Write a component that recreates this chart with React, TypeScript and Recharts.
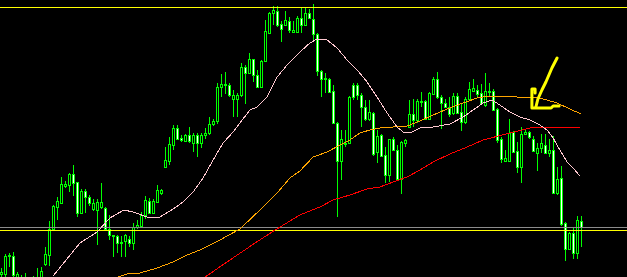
import { ComposedChart, Bar, Line, XAxis, YAxis, ReferenceLine } from 'recharts';

const W = 627;
const H = 277;

// candle values, one entry per bar (index = bar number)
const opens = [
  3, 3, 21, 21, 0, -2, -5, -3, -6, -5,
  -3, 13, 22, 48, 70, 74, 91, 92, 103, 95,
  64, 86, 80, 68, 67, 70, 69, 48, 41, 41,
  34, 36, 38, 34, 50, 51, 62, 76, 64, 75,
  84, 110, 116, 132, 149, 139, 136, 142, 134, 142,
  134, 142, 144, 153, 156, 190, 193, 192, 178, 178,
  182, 210, 204, 218, 202, 190, 216, 244, 264, 266,
  253, 252, 256, 245, 245, 259, 252, 264, 258, 243,
  206, 198, 198, 186, 154, 116, 133, 134, 192, 192,
  182, 170, 158, 164, 125, 142, 122, 102, 138, 127,
  98, 134, 150, 163, 157, 175, 176, 158, 183, 198,
  180, 174, 170, 164, 181, 165, 155, 178, 186, 187,
  184, 172, 185, 186, 168, 138, 116, 116, 145, 126,
  110, 143, 145, 138, 124, 129, 132, 124, 127, 84,
  99, 54, 28, 44, 24, 56,
];
const highs = [
  9, 23, 24, 25, 5, 2, 4, 0, 1, 9,
  10, 30, 56, 72, 80, 100, 96, 104, 112, 95,
  88, 88, 82, 78, 78, 94, 70, 62, 42, 42,
  41, 43, 41, 54, 57, 65, 81, 79, 78, 92,
  88, 130, 140, 152, 152, 142, 143, 150, 144, 144,
  144, 149, 160, 158, 194, 203, 205, 194, 187, 184,
  214, 212, 224, 218, 207, 217, 257, 265, 271, 271,
  256, 266, 260, 256, 261, 270, 270, 268, 273, 244,
  207, 204, 199, 192, 155, 147, 147, 181, 194, 194,
  184, 177, 177, 165, 147, 143, 130, 138, 140, 132,
  136, 138, 177, 178, 178, 185, 177, 185, 200, 205,
  182, 178, 180, 184, 184, 174, 180, 195, 198, 192,
  193, 204, 194, 188, 169, 140, 127, 158, 146, 135,
  150, 148, 146, 141, 134, 143, 143, 138, 141, 110,
  111, 55, 45, 49, 61, 61,
];
const lows = [
  -1, 0, 10, -1, -2, -13, -8, -11, -10, -8,
  -6, 11, 11, 47, 57, 74, 89, 85, 81, 60,
  64, 64, 71, 66, 32, 68, 47, 37, 20, 24,
  20, 20, 30, 27, 48, 50, 58, 63, 63, 74,
  82, 109, 112, 127, 137, 135, 135, 134, 125, 120,
  129, 138, 142, 151, 153, 180, 183, 180, 160, 160,
  180, 173, 203, 195, 190, 189, 215, 243, 252, 250,
  235, 251, 244, 244, 244, 244, 251, 258, 235, 201,
  180, 184, 184, 153, 60, 97, 130, 133, 177, 177,
  150, 156, 156, 121, 114, 120, 94, 95, 126, 98,
  83, 130, 150, 150, 154, 170, 157, 157, 182, 178,
  148, 169, 160, 162, 163, 146, 153, 177, 185, 179,
  172, 170, 180, 166, 134, 114, 115, 115, 124, 104,
  94, 142, 138, 125, 106, 124, 123, 120, 83, 82,
  51, 16, 27, 18, 18, 30,
];
const closes = [
  5, 21, 22, 2, 3, -8, -1, -7, -2, -1,
  6, 23, 48, 71, 76, 93, 93, 103, 94, 64,
  86, 80, 74, 74, 75, 75, 48, 42, 42, 34,
  35, 42, 34, 50, 52, 62, 77, 64, 76, 87,
  87, 117, 133, 149, 138, 137, 142, 136, 142, 134,
  142, 144, 153, 156, 190, 193, 192, 182, 182, 182,
  210, 204, 218, 202, 190, 216, 246, 264, 267, 252,
  248, 257, 247, 247, 259, 252, 264, 259, 243, 206,
  198, 199, 185, 154, 116, 138, 134, 180, 180, 182,
  170, 158, 165, 123, 141, 121, 102, 138, 127, 98,
  135, 137, 163, 157, 176, 176, 158, 184, 198, 180,
  174, 170, 163, 181, 164, 155, 178, 188, 189, 183,
  174, 186, 186, 167, 137, 118, 119, 144, 125, 110,
  143, 145, 140, 126, 129, 134, 124, 127, 84, 98,
  53, 28, 44, 24, 57, 50,
];

// moving averages (bar index, value)
const fastMA = [
  { k: 12.9, v: 1 }, { k: 19.6, v: 34 }, { k: 23.9, v: 45 }, { k: 27.1, v: 59 },
  { k: 30.6, v: 67 }, { k: 32.9, v: 65 }, { k: 36.4, v: 60 }, { k: 39.6, v: 60 },
  { k: 42.9, v: 68 }, { k: 45.4, v: 75 }, { k: 47.9, v: 85 }, { k: 50.4, v: 99 },
  { k: 52.9, v: 117 }, { k: 55.4, v: 134 }, { k: 57.9, v: 145 }, { k: 59.6, v: 154 },
  { k: 62.1, v: 167 }, { k: 63.9, v: 170 }, { k: 66.4, v: 180 }, { k: 68.9, v: 200 },
  { k: 71.4, v: 212 }, { k: 74.6, v: 225 }, { k: 77.1, v: 234 }, { k: 78.9, v: 238 },
  { k: 81.4, v: 237 }, { k: 83.9, v: 229 }, { k: 86.4, v: 217 }, { k: 88.9, v: 207 },
  { k: 91.4, v: 195 }, { k: 93.9, v: 180 }, { k: 96.4, v: 164 }, { k: 98.9, v: 150 },
  { k: 100.4, v: 145 }, { k: 102.1, v: 144 }, { k: 104.6, v: 149 }, { k: 107.9, v: 150 },
  { k: 112.1, v: 153 }, { k: 115.4, v: 160 }, { k: 117.9, v: 167 }, { k: 120.4, v: 174 },
  { k: 122.6, v: 177 }, { k: 124.6, v: 172 }, { k: 127.1, v: 165 }, { k: 129.6, v: 160 },
  { k: 132.1, v: 157 }, { k: 134.6, v: 152 }, { k: 136.4, v: 147 }, { k: 137.9, v: 139 },
  { k: 139.6, v: 127 }, { k: 141.4, v: 115 }, { k: 142.9, v: 109 }, { k: 144.6, v: 101 },
];
const midMA = [
  { k: 29.1, v: 0 }, { k: 31.4, v: 3 }, { k: 34.6, v: 4 }, { k: 38.9, v: 9 },
  { k: 42.9, v: 15 }, { k: 46.4, v: 22 }, { k: 49.6, v: 27 }, { k: 54.6, v: 37 },
  { k: 59.6, v: 48 }, { k: 64.6, v: 67 }, { k: 68.9, v: 84 }, { k: 72.1, v: 99 },
  { k: 74.6, v: 106 }, { k: 77.9, v: 120 }, { k: 81.4, v: 125 }, { k: 84.6, v: 132 },
  { k: 87.1, v: 137 }, { k: 89.6, v: 144 }, { k: 92.1, v: 147 }, { k: 94.6, v: 149 },
  { k: 97.9, v: 150 }, { k: 101.4, v: 151 }, { k: 104.6, v: 156 }, { k: 107.9, v: 162 },
  { k: 111.4, v: 168 }, { k: 115.4, v: 174 }, { k: 118.9, v: 179 }, { k: 122.1, v: 181 },
  { k: 128.9, v: 180 }, { k: 132.1, v: 180 }, { k: 135.4, v: 178 }, { k: 138.9, v: 174 },
  { k: 142.1, v: 168 }, { k: 144.9, v: 163 },
];
const slowMA = [
  { k: 50.9, v: 0 }, { k: 57.1, v: 17 }, { k: 63.4, v: 34 }, { k: 68.4, v: 47 },
  { k: 74.6, v: 62 }, { k: 79.6, v: 70 }, { k: 82.9, v: 77 }, { k: 87.1, v: 82 },
  { k: 91.4, v: 88 }, { k: 94.6, v: 90 }, { k: 97.9, v: 95 }, { k: 101.4, v: 100 },
  { k: 104.6, v: 107 }, { k: 107.9, v: 115 }, { k: 112.1, v: 123 }, { k: 116.4, v: 130 },
  { k: 120.4, v: 137 }, { k: 127.1, v: 144 }, { k: 132.1, v: 149 }, { k: 135.4, v: 150 },
  { k: 140.4, v: 150 }, { k: 144.6, v: 150 },
];

// horizontal levels: top resistance, grey support, yellow support
const levelValues = [269.5, 49.5, 46.5];
const levelColors = ['#FFFF00', '#8C8C8C', '#FFFF00'];

// hand drawn mark near the right edge
const markStroke = [
  { k: 138.9, v: 219 }, { k: 137.6, v: 209 }, { k: 136.1, v: 195 },
  { k: 135.1, v: 187 }, { k: 134.1, v: 178 }, { k: 133.6, v: 170 },
];
const markHook = [
  { k: 133.4, v: 184 }, { k: 133.4, v: 188 }, { k: 132.6, v: 188 }, { k: 132.6, v: 169 },
  { k: 137.4, v: 169 }, { k: 137.9, v: 171 }, { k: 139.4, v: 171 },
];

const candles = opens.map((o, i) => ({ k: i, o, h: highs[i], l: lows[i], c: closes[i] }));

// eslint-disable-next-line @typescript-eslint/no-explicit-any
const Candle = (props: any) => {
  const { x, y, width, height, payload } = props;
  if (x == null || y == null || !height) return null;
  const { o, h, l, c } = payload;
  const per = height / (h - l);
  const yOf = (v: number) => y + (h - v) * per;
  const cx = Math.floor(x + width / 2) + 0.5;
  const top = Math.round(yOf(Math.max(o, c)));
  const bot = Math.round(yOf(Math.min(o, c)));
  const bull = c >= o;
  return (
    <g shapeRendering="crispEdges">
      <line x1={cx} x2={cx} y1={Math.round(y)} y2={Math.round(y + height)} stroke="#00FF00" strokeWidth={1} />
      <rect
        x={cx - 1} y={top + 0.5} width={2} height={Math.max(bot - top, 0.01)}
        fill={bull ? '#000000' : '#FFFFFF'} stroke="#00FF00" strokeWidth={1}
      />
    </g>
  );
};

const lineProps = {
  dataKey: 'v',
  type: 'linear' as const,
  dot: false,
  activeDot: false,
  isAnimationActive: false,
};

export default function App() {
  return (
    <div style={{ position: 'fixed', left: 0, top: 0, width: W, height: H, background: '#000' }}>
      <ComposedChart width={W} height={H} data={candles} margin={{ top: 0, right: 0, bottom: 0, left: 0 }}>
        <XAxis type="number" dataKey="k" domain={[-0.375, 156.375]} hide allowDataOverflow />
        <YAxis type="number" domain={[0, 277]} hide allowDataOverflow />
        {levelValues.map((v, i) => (
          <ReferenceLine key={i} y={v} stroke={levelColors[i]} strokeWidth={1} shapeRendering="crispEdges" />
        ))}
        <Bar
          dataKey={(d: { l: number; h: number }) => [d.l, d.h]}
          barSize={4}
          shape={<Candle />}
          activeBar={false}
          isAnimationActive={false}
        />
        <Line {...lineProps} data={slowMA} stroke="#FF0000" strokeWidth={1} shapeRendering="crispEdges" />
        <Line {...lineProps} data={midMA} stroke="#FFA500" strokeWidth={1} shapeRendering="crispEdges" />
        <Line {...lineProps} data={fastMA} stroke="#FFC8D0" strokeWidth={1} shapeRendering="crispEdges" />
        <Line {...lineProps} data={markStroke} stroke="#FFFF00" strokeWidth={3}
          strokeLinecap="round" strokeLinejoin="round" />
        <Line {...lineProps} data={markHook} stroke="#FFFF00" strokeWidth={3}
          strokeLinecap="round" strokeLinejoin="round" />
      </ComposedChart>
    </div>
  );
}
